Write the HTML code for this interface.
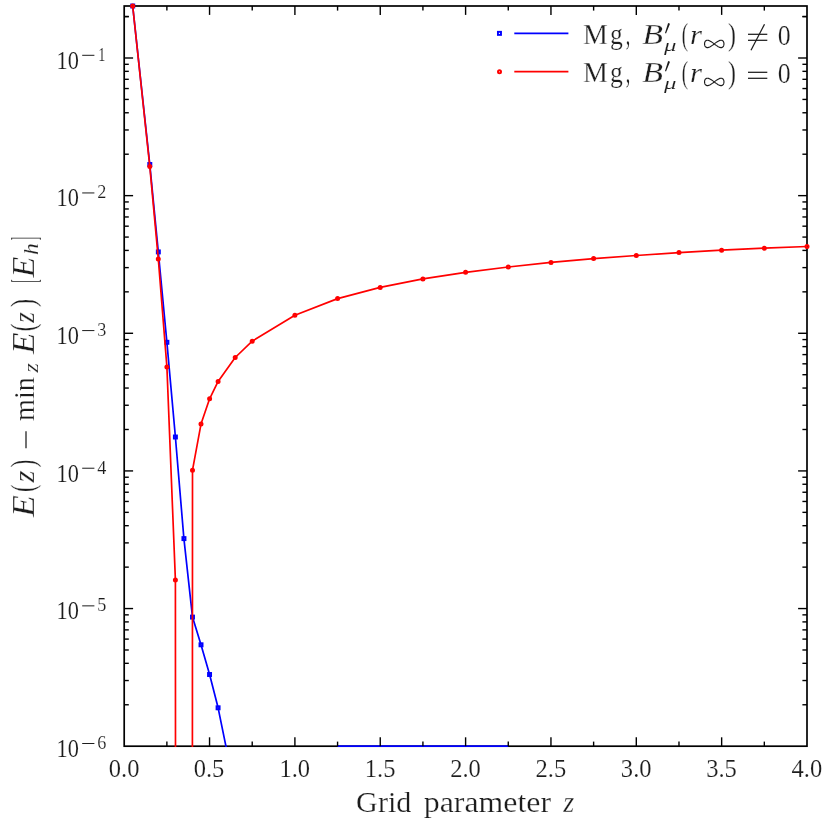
<!DOCTYPE html>
<html><head><meta charset="utf-8"><title>chart</title>
<style>
html,body{margin:0;padding:0;background:#fff;}
body{width:830px;height:830px;overflow:hidden;}
svg{display:block;will-change:transform;}
text{font-family:"Liberation Serif",serif;fill:#1c1c1c;stroke:#fff;stroke-width:0.25px;stroke-linejoin:round;}
.s{stroke-width:0.15px;}
.i{font-style:italic;}
.r{stroke:#1c1c1c;stroke-width:1.25;fill:none;}
</style></head><body>
<svg width="830" height="830" viewBox="0 0 830 830">
<rect width="830" height="830" fill="#fff"/>
<defs><clipPath id="ax"><rect x="123.35" y="5.15" width="684.50" height="741.90"/></clipPath></defs>
<rect x="124.20" y="6.00" width="682.80" height="740.20" fill="none" stroke="#000" stroke-width="1.70"/>
<g clip-path="url(#ax)" fill="none" stroke-linejoin="round" stroke-width="1.70">
<polyline stroke="#0000ff" points="132.7,6.0 149.8,164.5 158.3,251.9 166.9,342.3 175.4,437.0 183.9,538.6 192.5,617.1 201.0,644.8 209.6,674.5 218.1,707.8 226.6,749.5"/>
<line stroke="#0000ff" x1="337.6" y1="746.2" x2="508.3" y2="746.2"/>
</g>
<g stroke-width="1.9" stroke="#0000ff" fill="none">
<rect x="131.21" y="4.47" width="3.05" height="3.05"/>
<rect x="148.28" y="162.97" width="3.05" height="3.05"/>
<rect x="156.81" y="250.38" width="3.05" height="3.05"/>
<rect x="165.35" y="340.78" width="3.05" height="3.05"/>
<rect x="173.88" y="435.48" width="3.05" height="3.05"/>
<rect x="182.42" y="537.08" width="3.05" height="3.05"/>
<rect x="190.96" y="615.58" width="3.05" height="3.05"/>
<rect x="199.49" y="643.27" width="3.05" height="3.05"/>
<rect x="208.03" y="672.98" width="3.05" height="3.05"/>
<rect x="216.56" y="706.27" width="3.05" height="3.05"/>
</g>
<g clip-path="url(#ax)" fill="none" stroke-linejoin="round" stroke-width="1.70">
<polyline stroke="#ff0000" points="132.7,6.0 149.8,166.6 158.3,258.9 166.9,366.9 175.4,579.9 175.5,760.0"/>
<polyline stroke="#ff0000" points="192.4,760.0 192.5,470.2 201.0,424.1 209.6,398.8 218.1,381.4 235.2,357.5 252.2,341.2 294.9,315.3 337.6,298.6 380.2,287.4 422.9,278.9 465.6,272.3 508.3,267.0 551.0,262.4 593.6,258.6 636.3,255.5 679.0,252.6 721.6,250.2 764.3,248.2 807.0,246.5"/>
</g>
<g stroke-width="2.0" stroke="#ff0000" fill="none">
<circle cx="132.7" cy="6.0" r="1.5"/>
<circle cx="149.8" cy="166.6" r="1.5"/>
<circle cx="158.3" cy="258.9" r="1.5"/>
<circle cx="166.9" cy="366.9" r="1.5"/>
<circle cx="175.4" cy="579.9" r="1.5"/>
<circle cx="192.5" cy="470.2" r="1.5"/>
<circle cx="201.0" cy="424.1" r="1.5"/>
<circle cx="209.6" cy="398.8" r="1.5"/>
<circle cx="218.1" cy="381.4" r="1.5"/>
<circle cx="235.2" cy="357.5" r="1.5"/>
<circle cx="252.2" cy="341.2" r="1.5"/>
<circle cx="294.9" cy="315.3" r="1.5"/>
<circle cx="337.6" cy="298.6" r="1.5"/>
<circle cx="380.2" cy="287.4" r="1.5"/>
<circle cx="422.9" cy="278.9" r="1.5"/>
<circle cx="465.6" cy="272.3" r="1.5"/>
<circle cx="508.3" cy="267.0" r="1.5"/>
<circle cx="551.0" cy="262.4" r="1.5"/>
<circle cx="593.6" cy="258.6" r="1.5"/>
<circle cx="636.3" cy="255.5" r="1.5"/>
<circle cx="679.0" cy="252.6" r="1.5"/>
<circle cx="721.6" cy="250.2" r="1.5"/>
<circle cx="764.3" cy="248.2" r="1.5"/>
<circle cx="807.0" cy="246.5" r="1.5"/>
</g>
<g stroke="#000" stroke-width="1.40">
<line x1="166.88" y1="746.20" x2="166.88" y2="741.60"/><line x1="166.88" y1="6.00" x2="166.88" y2="10.60"/>
<line x1="209.55" y1="746.20" x2="209.55" y2="737.30"/><line x1="209.55" y1="6.00" x2="209.55" y2="14.90"/>
<line x1="252.22" y1="746.20" x2="252.22" y2="741.60"/><line x1="252.22" y1="6.00" x2="252.22" y2="10.60"/>
<line x1="294.90" y1="746.20" x2="294.90" y2="737.30"/><line x1="294.90" y1="6.00" x2="294.90" y2="14.90"/>
<line x1="337.57" y1="746.20" x2="337.57" y2="741.60"/><line x1="337.57" y1="6.00" x2="337.57" y2="10.60"/>
<line x1="380.25" y1="746.20" x2="380.25" y2="737.30"/><line x1="380.25" y1="6.00" x2="380.25" y2="14.90"/>
<line x1="422.92" y1="746.20" x2="422.92" y2="741.60"/><line x1="422.92" y1="6.00" x2="422.92" y2="10.60"/>
<line x1="465.60" y1="746.20" x2="465.60" y2="737.30"/><line x1="465.60" y1="6.00" x2="465.60" y2="14.90"/>
<line x1="508.27" y1="746.20" x2="508.27" y2="741.60"/><line x1="508.27" y1="6.00" x2="508.27" y2="10.60"/>
<line x1="550.95" y1="746.20" x2="550.95" y2="737.30"/><line x1="550.95" y1="6.00" x2="550.95" y2="14.90"/>
<line x1="593.62" y1="746.20" x2="593.62" y2="741.60"/><line x1="593.62" y1="6.00" x2="593.62" y2="10.60"/>
<line x1="636.30" y1="746.20" x2="636.30" y2="737.30"/><line x1="636.30" y1="6.00" x2="636.30" y2="14.90"/>
<line x1="678.98" y1="746.20" x2="678.98" y2="741.60"/><line x1="678.98" y1="6.00" x2="678.98" y2="10.60"/>
<line x1="721.65" y1="746.20" x2="721.65" y2="737.30"/><line x1="721.65" y1="6.00" x2="721.65" y2="14.90"/>
<line x1="764.33" y1="746.20" x2="764.33" y2="741.60"/><line x1="764.33" y1="6.00" x2="764.33" y2="10.60"/>
<line x1="124.20" y1="704.77" x2="128.80" y2="704.77"/><line x1="807.00" y1="704.77" x2="802.40" y2="704.77"/>
<line x1="124.20" y1="680.53" x2="128.80" y2="680.53"/><line x1="807.00" y1="680.53" x2="802.40" y2="680.53"/>
<line x1="124.20" y1="663.33" x2="128.80" y2="663.33"/><line x1="807.00" y1="663.33" x2="802.40" y2="663.33"/>
<line x1="124.20" y1="649.99" x2="128.80" y2="649.99"/><line x1="807.00" y1="649.99" x2="802.40" y2="649.99"/>
<line x1="124.20" y1="639.10" x2="128.80" y2="639.10"/><line x1="807.00" y1="639.10" x2="802.40" y2="639.10"/>
<line x1="124.20" y1="629.88" x2="128.80" y2="629.88"/><line x1="807.00" y1="629.88" x2="802.40" y2="629.88"/>
<line x1="124.20" y1="621.90" x2="128.80" y2="621.90"/><line x1="807.00" y1="621.90" x2="802.40" y2="621.90"/>
<line x1="124.20" y1="614.86" x2="128.80" y2="614.86"/><line x1="807.00" y1="614.86" x2="802.40" y2="614.86"/>
<line x1="124.20" y1="608.56" x2="133.10" y2="608.56"/><line x1="807.00" y1="608.56" x2="798.10" y2="608.56"/>
<line x1="124.20" y1="567.13" x2="128.80" y2="567.13"/><line x1="807.00" y1="567.13" x2="802.40" y2="567.13"/>
<line x1="124.20" y1="542.89" x2="128.80" y2="542.89"/><line x1="807.00" y1="542.89" x2="802.40" y2="542.89"/>
<line x1="124.20" y1="525.69" x2="128.80" y2="525.69"/><line x1="807.00" y1="525.69" x2="802.40" y2="525.69"/>
<line x1="124.20" y1="512.35" x2="128.80" y2="512.35"/><line x1="807.00" y1="512.35" x2="802.40" y2="512.35"/>
<line x1="124.20" y1="501.46" x2="128.80" y2="501.46"/><line x1="807.00" y1="501.46" x2="802.40" y2="501.46"/>
<line x1="124.20" y1="492.24" x2="128.80" y2="492.24"/><line x1="807.00" y1="492.24" x2="802.40" y2="492.24"/>
<line x1="124.20" y1="484.26" x2="128.80" y2="484.26"/><line x1="807.00" y1="484.26" x2="802.40" y2="484.26"/>
<line x1="124.20" y1="477.22" x2="128.80" y2="477.22"/><line x1="807.00" y1="477.22" x2="802.40" y2="477.22"/>
<line x1="124.20" y1="470.92" x2="133.10" y2="470.92"/><line x1="807.00" y1="470.92" x2="798.10" y2="470.92"/>
<line x1="124.20" y1="429.49" x2="128.80" y2="429.49"/><line x1="807.00" y1="429.49" x2="802.40" y2="429.49"/>
<line x1="124.20" y1="405.25" x2="128.80" y2="405.25"/><line x1="807.00" y1="405.25" x2="802.40" y2="405.25"/>
<line x1="124.20" y1="388.05" x2="128.80" y2="388.05"/><line x1="807.00" y1="388.05" x2="802.40" y2="388.05"/>
<line x1="124.20" y1="374.71" x2="128.80" y2="374.71"/><line x1="807.00" y1="374.71" x2="802.40" y2="374.71"/>
<line x1="124.20" y1="363.82" x2="128.80" y2="363.82"/><line x1="807.00" y1="363.82" x2="802.40" y2="363.82"/>
<line x1="124.20" y1="354.60" x2="128.80" y2="354.60"/><line x1="807.00" y1="354.60" x2="802.40" y2="354.60"/>
<line x1="124.20" y1="346.62" x2="128.80" y2="346.62"/><line x1="807.00" y1="346.62" x2="802.40" y2="346.62"/>
<line x1="124.20" y1="339.58" x2="128.80" y2="339.58"/><line x1="807.00" y1="339.58" x2="802.40" y2="339.58"/>
<line x1="124.20" y1="333.28" x2="133.10" y2="333.28"/><line x1="807.00" y1="333.28" x2="798.10" y2="333.28"/>
<line x1="124.20" y1="291.85" x2="128.80" y2="291.85"/><line x1="807.00" y1="291.85" x2="802.40" y2="291.85"/>
<line x1="124.20" y1="267.61" x2="128.80" y2="267.61"/><line x1="807.00" y1="267.61" x2="802.40" y2="267.61"/>
<line x1="124.20" y1="250.41" x2="128.80" y2="250.41"/><line x1="807.00" y1="250.41" x2="802.40" y2="250.41"/>
<line x1="124.20" y1="237.07" x2="128.80" y2="237.07"/><line x1="807.00" y1="237.07" x2="802.40" y2="237.07"/>
<line x1="124.20" y1="226.18" x2="128.80" y2="226.18"/><line x1="807.00" y1="226.18" x2="802.40" y2="226.18"/>
<line x1="124.20" y1="216.96" x2="128.80" y2="216.96"/><line x1="807.00" y1="216.96" x2="802.40" y2="216.96"/>
<line x1="124.20" y1="208.98" x2="128.80" y2="208.98"/><line x1="807.00" y1="208.98" x2="802.40" y2="208.98"/>
<line x1="124.20" y1="201.94" x2="128.80" y2="201.94"/><line x1="807.00" y1="201.94" x2="802.40" y2="201.94"/>
<line x1="124.20" y1="195.64" x2="133.10" y2="195.64"/><line x1="807.00" y1="195.64" x2="798.10" y2="195.64"/>
<line x1="124.20" y1="154.21" x2="128.80" y2="154.21"/><line x1="807.00" y1="154.21" x2="802.40" y2="154.21"/>
<line x1="124.20" y1="129.97" x2="128.80" y2="129.97"/><line x1="807.00" y1="129.97" x2="802.40" y2="129.97"/>
<line x1="124.20" y1="112.77" x2="128.80" y2="112.77"/><line x1="807.00" y1="112.77" x2="802.40" y2="112.77"/>
<line x1="124.20" y1="99.43" x2="128.80" y2="99.43"/><line x1="807.00" y1="99.43" x2="802.40" y2="99.43"/>
<line x1="124.20" y1="88.54" x2="128.80" y2="88.54"/><line x1="807.00" y1="88.54" x2="802.40" y2="88.54"/>
<line x1="124.20" y1="79.32" x2="128.80" y2="79.32"/><line x1="807.00" y1="79.32" x2="802.40" y2="79.32"/>
<line x1="124.20" y1="71.34" x2="128.80" y2="71.34"/><line x1="807.00" y1="71.34" x2="802.40" y2="71.34"/>
<line x1="124.20" y1="64.30" x2="128.80" y2="64.30"/><line x1="807.00" y1="64.30" x2="802.40" y2="64.30"/>
<line x1="124.20" y1="58.00" x2="133.10" y2="58.00"/><line x1="807.00" y1="58.00" x2="798.10" y2="58.00"/>
<line x1="124.20" y1="16.57" x2="128.80" y2="16.57"/><line x1="807.00" y1="16.57" x2="802.40" y2="16.57"/>
<line x1="124.20" y1="-7.67" x2="128.80" y2="-7.67"/><line x1="807.00" y1="-7.67" x2="802.40" y2="-7.67"/>
<line x1="124.20" y1="-24.87" x2="128.80" y2="-24.87"/><line x1="807.00" y1="-24.87" x2="802.40" y2="-24.87"/>
<line x1="124.20" y1="-38.21" x2="128.80" y2="-38.21"/><line x1="807.00" y1="-38.21" x2="802.40" y2="-38.21"/>
<line x1="124.20" y1="-49.10" x2="128.80" y2="-49.10"/><line x1="807.00" y1="-49.10" x2="802.40" y2="-49.10"/>
<line x1="124.20" y1="-58.32" x2="128.80" y2="-58.32"/><line x1="807.00" y1="-58.32" x2="802.40" y2="-58.32"/>
<line x1="124.20" y1="-66.30" x2="128.80" y2="-66.30"/><line x1="807.00" y1="-66.30" x2="802.40" y2="-66.30"/>
<line x1="124.20" y1="-73.34" x2="128.80" y2="-73.34"/><line x1="807.00" y1="-73.34" x2="802.40" y2="-73.34"/>
<line x1="124.20" y1="16.57" x2="128.80" y2="16.57"/><line x1="807.00" y1="16.57" x2="802.40" y2="16.57"/>
</g>
<text transform="translate(108.75,776.86) scale(1.0107,1.0000)" font-size="24.30" class="s">0.0</text>
<text transform="translate(193.70,776.86) scale(1.0107,1.0000)" font-size="24.30" class="s">0.5</text>
<text transform="translate(279.45,776.86) scale(1.0107,1.0000)" font-size="24.30" class="s">1.0</text>
<text transform="translate(364.80,776.86) scale(1.0032,1.0000)" font-size="24.48" class="s">1.5</text>
<text transform="translate(450.15,776.86) scale(1.0107,1.0000)" font-size="24.30" class="s">2.0</text>
<text transform="translate(535.50,776.86) scale(1.0062,1.0000)" font-size="24.41" class="s">2.5</text>
<text transform="translate(620.85,776.86) scale(1.0107,1.0000)" font-size="24.30" class="s">3.0</text>
<text transform="translate(706.20,776.86) scale(1.0062,1.0000)" font-size="24.41" class="s">3.5</text>
<text transform="translate(791.55,776.86) scale(1.0107,1.0000)" font-size="24.30" class="s">4.0</text>
<text transform="translate(56.60,757.05) scale(0.9108,1.0000)" font-size="24.59" class="s">10</text>
<line class="r" style="stroke-width:1.0" x1="82.2" y1="743.50" x2="94.4" y2="743.50"/>
<text transform="translate(97.20,748.72) scale(1.0025,1.0000)" font-size="18.15" class="s">6</text>
<text transform="translate(56.60,619.41) scale(0.9108,1.0000)" font-size="24.59" class="s">10</text>
<line class="r" style="stroke-width:1.0" x1="82.2" y1="605.86" x2="94.4" y2="605.86"/>
<text transform="translate(97.20,611.08) scale(0.9920,1.0000)" font-size="18.35" class="s">5</text>
<text transform="translate(56.60,481.77) scale(0.9108,1.0000)" font-size="24.59" class="s">10</text>
<line class="r" style="stroke-width:1.0" x1="82.2" y1="468.22" x2="94.4" y2="468.22"/>
<text transform="translate(97.20,473.62) scale(0.9816,1.0000)" font-size="18.54" class="s">4</text>
<text transform="translate(56.60,344.13) scale(0.9108,1.0000)" font-size="24.59" class="s">10</text>
<line class="r" style="stroke-width:1.0" x1="82.2" y1="330.58" x2="94.4" y2="330.58"/>
<text transform="translate(97.20,335.80) scale(1.0025,1.0000)" font-size="18.15" class="s">3</text>
<text transform="translate(56.60,206.49) scale(0.9108,1.0000)" font-size="24.59" class="s">10</text>
<line class="r" style="stroke-width:1.0" x1="82.2" y1="192.94" x2="94.4" y2="192.94"/>
<text transform="translate(97.20,198.34) scale(0.9876,1.0000)" font-size="18.43" class="s">2</text>
<text transform="translate(56.60,68.85) scale(0.9108,1.0000)" font-size="24.59" class="s">10</text>
<line class="r" style="stroke-width:1.0" x1="82.2" y1="55.30" x2="94.4" y2="55.30"/>
<text transform="translate(98.20,60.60) scale(0.7682,1.0000)" font-size="18.48" class="s">1</text>
<g transform="translate(0,0)">
<text transform="translate(356.10,811.50) scale(1.0192,1.0000)" font-size="29.60">Grid</text>
<text transform="translate(423.70,811.50) scale(1.0768,1.0000)" font-size="29.60">parameter</text>
<text transform="translate(563.24,811.50) scale(0.9520,1.0000)" font-size="29.60" class="i">z</text>
</g>
<g transform="translate(34.0,517.5) rotate(-90)">
<text transform="translate(0.43,0.00) scale(1.2039,1.0419)" font-size="29.60" class="i">E</text>
<text transform="translate(25.60,0.20) scale(0.7710,1.1100)" font-size="29.60">(</text>
<text transform="translate(35.07,0.00) scale(1.0447,1.0000)" font-size="29.60" class="i">z</text>
<text transform="translate(50.20,0.20) scale(0.7710,1.1100)" font-size="29.60">)</text>
<line class="r" x1="69.3" y1="-8" x2="86.2" y2="-8"/>
<text transform="translate(96.40,0.00) scale(0.9553,1.0000)" font-size="29.60">min</text>
<text transform="translate(144.89,4.00) scale(1.1565,1.0000)" font-size="20.70" class="i s">z</text>
<text transform="translate(163.42,0.00) scale(1.1876,1.0419)" font-size="29.60" class="i">E</text>
<text transform="translate(186.20,0.20) scale(0.7609,1.1100)" font-size="29.60">(</text>
<text transform="translate(194.63,0.00) scale(0.9267,1.0000)" font-size="29.60" class="i">z</text>
<text transform="translate(210.60,0.20) scale(0.8319,1.1100)" font-size="29.60">)</text>
<text transform="translate(235.00,2.17) scale(0.3246,1.1914)" font-size="29.60">[</text>
<text transform="translate(240.11,0.00) scale(1.1496,1.0419)" font-size="29.60" class="i">E</text>
<text transform="translate(262.50,4.40) scale(1.1304,1.0000)" font-size="20.70" class="i s">h</text>
<text transform="translate(277.30,2.17) scale(0.3246,1.1914)" font-size="29.60">]</text>
</g>
<rect x="497.93" y="31.83" width="3.05" height="3.05" fill="none" stroke="#0000ff" stroke-width="1.9"/>
<line x1="514.3" y1="33.35" x2="568.4" y2="33.35" stroke="#0000ff" stroke-width="1.70"/>
<text transform="translate(582.90,44.40) scale(0.9462,1.0213)" font-size="29.60">M</text>
<text transform="translate(609.90,44.40) scale(0.8649,1.0000)" font-size="29.60">g</text>
<text transform="translate(625.70,44.75) scale(0.6081,1.1305)" font-size="29.60">,</text>
<text transform="translate(642.20,44.31) scale(1.1501,1.0166)" font-size="29.60" class="i">B</text>
<polygon points="668.1,22.90 670.0,23.70 666.0,33.40 665.0,33.00" fill="#1c1c1c"/>
<text transform="translate(663.92,51.31) scale(1.2005,0.8327)" font-size="20.70" class="i s">μ</text>
<text transform="translate(681.70,44.89) scale(0.6392,1.0802)" font-size="29.60">(</text>
<text transform="translate(689.90,44.40) scale(1.0402,0.8966)" font-size="29.60" class="i">r</text>
<path d="M723.95,43.90 L723.90,44.67 L723.74,45.40 L723.48,46.07 L723.11,46.65 L722.65,47.10 L722.10,47.42 L721.46,47.58 L720.74,47.58 L719.95,47.42 L719.10,47.10 L718.20,46.65 L717.25,46.07 L716.27,45.40 L715.26,44.67 L714.25,43.90 L713.24,43.13 L712.23,42.40 L711.25,41.73 L710.30,41.15 L709.40,40.70 L708.55,40.38 L707.76,40.22 L707.04,40.22 L706.40,40.38 L705.85,40.70 L705.39,41.15 L705.02,41.73 L704.76,42.40 L704.60,43.13 L704.55,43.90 L704.60,44.67 L704.76,45.40 L705.02,46.07 L705.39,46.65 L705.85,47.10 L706.40,47.42 L707.04,47.58 L707.76,47.58 L708.55,47.42 L709.40,47.10 L710.30,46.65 L711.25,46.07 L712.23,45.40 L713.24,44.67 L714.25,43.90 L715.26,43.13 L716.27,42.40 L717.25,41.73 L718.20,41.15 L719.10,40.70 L719.95,40.38 L720.74,40.22 L721.46,40.22 L722.10,40.38 L722.65,40.70 L723.11,41.15 L723.48,41.73 L723.74,42.40 L723.90,43.13 L723.95,43.90 Z" fill="none" stroke="#1c1c1c" stroke-width="1.15" stroke-linejoin="round"/>
<text transform="translate(728.10,44.89) scale(0.8015,1.0802)" font-size="29.60">)</text>
<line class="r" x1="748" y1="34.30" x2="767.3" y2="34.30"/><line class="r" x1="748" y1="40.30" x2="767.3" y2="40.30"/>
<line class="r" x1="751.0" y1="50.30" x2="764.5" y2="24.20"/>
<text transform="translate(777.70,44.52) scale(0.8716,0.9610)" font-size="29.60">0</text>
<circle cx="499.5" cy="71.70" r="1.5" fill="none" stroke="#ff0000" stroke-width="2.0"/>
<line x1="514.3" y1="71.70" x2="568.4" y2="71.70" stroke="#ff0000" stroke-width="1.70"/>
<text transform="translate(582.90,82.40) scale(0.9462,1.0213)" font-size="29.60">M</text>
<text transform="translate(609.90,82.40) scale(0.8649,1.0000)" font-size="29.60">g</text>
<text transform="translate(625.70,82.75) scale(0.6081,1.1305)" font-size="29.60">,</text>
<text transform="translate(642.20,82.31) scale(1.1501,1.0166)" font-size="29.60" class="i">B</text>
<polygon points="668.1,60.90 670.0,61.70 666.0,71.40 665.0,71.00" fill="#1c1c1c"/>
<text transform="translate(663.92,89.31) scale(1.2005,0.8327)" font-size="20.70" class="i s">μ</text>
<text transform="translate(681.70,82.89) scale(0.6392,1.0802)" font-size="29.60">(</text>
<text transform="translate(689.90,82.40) scale(1.0402,0.8966)" font-size="29.60" class="i">r</text>
<path d="M723.95,81.90 L723.90,82.67 L723.74,83.40 L723.48,84.07 L723.11,84.65 L722.65,85.10 L722.10,85.42 L721.46,85.58 L720.74,85.58 L719.95,85.42 L719.10,85.10 L718.20,84.65 L717.25,84.07 L716.27,83.40 L715.26,82.67 L714.25,81.90 L713.24,81.13 L712.23,80.40 L711.25,79.73 L710.30,79.15 L709.40,78.70 L708.55,78.38 L707.76,78.22 L707.04,78.22 L706.40,78.38 L705.85,78.70 L705.39,79.15 L705.02,79.73 L704.76,80.40 L704.60,81.13 L704.55,81.90 L704.60,82.67 L704.76,83.40 L705.02,84.07 L705.39,84.65 L705.85,85.10 L706.40,85.42 L707.04,85.58 L707.76,85.58 L708.55,85.42 L709.40,85.10 L710.30,84.65 L711.25,84.07 L712.23,83.40 L713.24,82.67 L714.25,81.90 L715.26,81.13 L716.27,80.40 L717.25,79.73 L718.20,79.15 L719.10,78.70 L719.95,78.38 L720.74,78.22 L721.46,78.22 L722.10,78.38 L722.65,78.70 L723.11,79.15 L723.48,79.73 L723.74,80.40 L723.90,81.13 L723.95,81.90 Z" fill="none" stroke="#1c1c1c" stroke-width="1.15" stroke-linejoin="round"/>
<text transform="translate(728.10,82.89) scale(0.8015,1.0802)" font-size="29.60">)</text>
<line class="r" x1="748" y1="72.30" x2="767.3" y2="72.30"/><line class="r" x1="748" y1="78.30" x2="767.3" y2="78.30"/>
<text transform="translate(777.70,82.52) scale(0.8716,0.9610)" font-size="29.60">0</text>
</svg>
</body></html>
